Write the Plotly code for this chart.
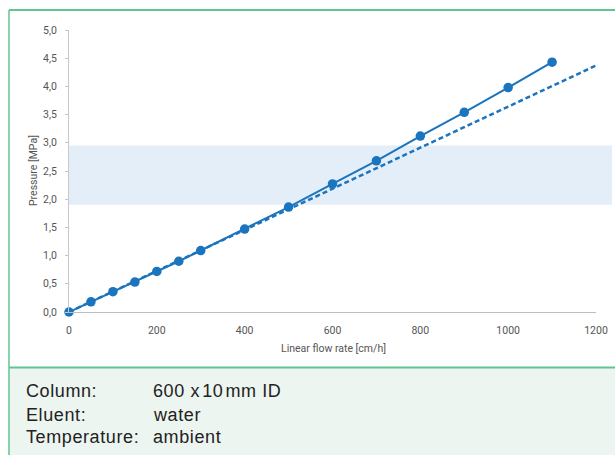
import plotly.graph_objects as go

# Measured back pressure vs. linear flow rate
flow_rate = [0, 50, 100, 150, 200, 250, 300, 400, 500, 600, 700, 800, 900, 1000, 1100]
pressure = [0.0, 0.18, 0.36, 0.53, 0.72, 0.90, 1.09, 1.47, 1.86, 2.27, 2.68, 3.12, 3.54, 3.98, 4.43]

# Linear (ideal) pressure trend
trend_flow = [0, 1200]
trend_pressure = [0.0, 4.37]

# Recommended operating pressure window
band_low, band_high = 1.9, 2.95

y_ticks = [0, 0.5, 1.0, 1.5, 2.0, 2.5, 3.0, 3.5, 4.0, 4.5, 5.0]
x_ticks = [0, 200, 400, 600, 800, 1000, 1200]

conditions = [("Column:", "600 x\u200a10\u200amm ID"),
              ("Eluent:", "water"),
              ("Temperature:", "ambient")]

W, H = 615, 455
L, R, T, B = 69, 596, 30, 312  # plot area in pixels

def px(x):
    return (x - L) / (R - L)

def py(y):
    return (B - y) / (B - T)

BLUE = "#1a74be"
GREEN = "#62c48f"
NARROW = "Liberation Sans Narrow, Roboto, Arial"
TICK_FONT = dict(family=NARROW, size=10.5, color="#555555")

fig = go.Figure()

fig.add_trace(go.Scatter(
    x=trend_flow, y=trend_pressure, mode="lines",
    line=dict(color=BLUE, width=2.5, dash="5px,3px"),
    hoverinfo="skip", showlegend=False, cliponaxis=False,
))
fig.add_trace(go.Scatter(
    x=flow_rate, y=pressure, mode="lines+markers",
    line=dict(color=BLUE, width=2),
    marker=dict(color=BLUE, size=9.5),
    showlegend=False, cliponaxis=False,
))

shapes = [
    # operating window band
    dict(type="rect", xref="paper", yref="y", x0=0, x1=px(612),
         y0=band_low, y1=band_high, fillcolor="#e4eef8", line_width=0, layer="below"),
    # conditions panel
    dict(type="rect", xref="paper", yref="paper", x0=px(9), x1=px(620),
         y0=py(460), y1=py(367), fillcolor="#edf5f0", line_width=0, layer="below"),
    # frame lines
    dict(type="line", xref="paper", yref="paper", x0=px(9), x1=px(620),
         y0=py(10), y1=py(10), line=dict(color=GREEN, width=2)),
    dict(type="line", xref="paper", yref="paper", x0=px(9), x1=px(9),
         y0=py(10), y1=py(460), line=dict(color=GREEN, width=1.5)),
    dict(type="line", xref="paper", yref="paper", x0=px(9), x1=px(620),
         y0=py(367.5), y1=py(367.5), line=dict(color=GREEN, width=2)),
]

annotations = [
    dict(text="Pressure [MPa]", xref="paper", yref="paper", x=px(33), y=py(171),
         textangle=-90, showarrow=False, xanchor="center", yanchor="middle",
         font=dict(family=NARROW, size=10.5, color="#555555")),
    dict(text="Linear flow rate [cm/h]", xref="paper", yref="paper", x=px(333), y=py(348),
         showarrow=False, xanchor="center", yanchor="middle",
         font=dict(family=NARROW, size=10.5, color="#555555")),
]
row_y = [391, 414.5, 437.5]
for (label, value), yy in zip(conditions, row_y):
    for text, xx in ((label, 24), (value, 151)):
        annotations.append(dict(
            text=f'<span style="letter-spacing:0.6px">{text}</span>',
            xref="paper", yref="paper", x=px(xx), y=py(yy),
            showarrow=False, xanchor="left", yanchor="middle",
            font=dict(family="Liberation Sans, Arial", size=18, color="#222222"),
        ))

fig.update_layout(
    width=W, height=H,
    margin=dict(l=L, r=W - R, t=T, b=H - B, pad=0, autoexpand=False),
    paper_bgcolor="white", plot_bgcolor="white",
    separators=",.",
    shapes=shapes, annotations=annotations,
    xaxis=dict(range=[0, 1200], tickvals=x_ticks, showgrid=False, zeroline=False,
               showline=True, linecolor="#bdbdbd", linewidth=1, ticks="",
               ticklabelstandoff=8, tickfont=TICK_FONT, fixedrange=True,
               automargin=False),
    yaxis=dict(range=[0, 5], tickvals=y_ticks, tickformat=".1f", showgrid=False,
               zeroline=False, showline=True, linecolor="#c8c8c8", linewidth=1,
               ticks="outside", ticklen=3, tickcolor="#c8c8c8",
               ticklabelstandoff=6, tickfont=TICK_FONT, fixedrange=True,
               automargin=False),
)

fig.write_html("out.html")
